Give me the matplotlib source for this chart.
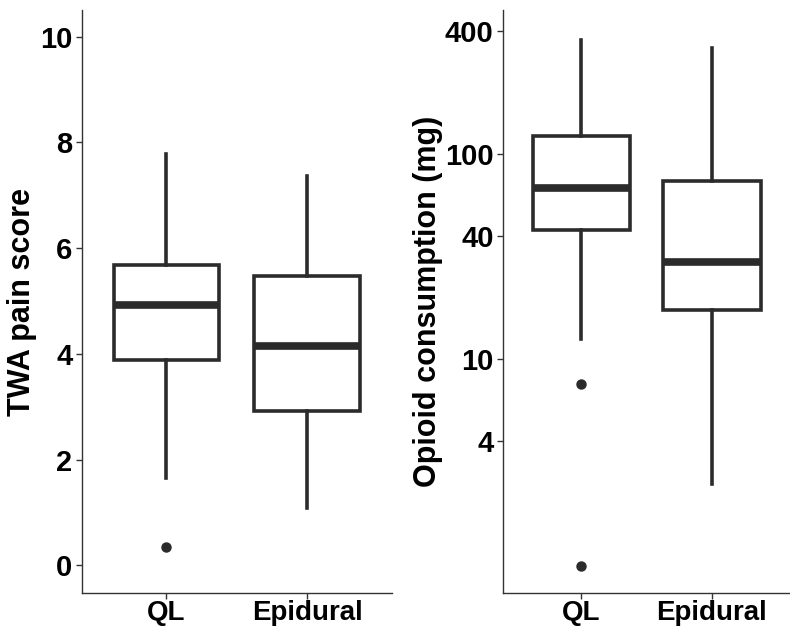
import matplotlib
matplotlib.use("Agg")
import matplotlib.pyplot as plt

# Группы
groups = ["QL", "Epidural"]

# TWA pain score: whislo, q1, med, q3, whishi
pain_whislo = [1.65, 1.08]
pain_q1 = [3.88, 2.92]
pain_med = [4.93, 4.15]
pain_q3 = [5.68, 5.47]
pain_whishi = [7.78, 7.37]
pain_fliers = [[0.35], []]

# Opioid consumption (mg), log scale
opioid_whislo = [12.6, 2.46]
opioid_q1 = [42.5, 17.3]
opioid_med = [68.5, 29.7]
opioid_q3 = [122, 74]
opioid_whishi = [360, 329]
opioid_fliers = [[7.6, 0.98], []]

LINE = "#2b2b2b"
plt.rcParams["font.family"] = ["Liberation Sans", "DejaVu Sans"]
plt.rcParams["font.weight"] = "bold"


def make_stats(lo, q1, med, q3, hi, fl):
    return [dict(whislo=lo[i], q1=q1[i], med=med[i], q3=q3[i], whishi=hi[i],
                 fliers=fl[i], label=groups[i]) for i in range(len(groups))]


def draw(ax, stats):
    ax.bxp(stats, positions=[1, 2], widths=0.75, showcaps=False, patch_artist=True,
           boxprops=dict(facecolor="white", edgecolor=LINE, linewidth=2.6),
           medianprops=dict(color=LINE, linewidth=5.5, solid_capstyle="butt"),
           whiskerprops=dict(color=LINE, linewidth=2.6),
           flierprops=dict(marker="o", markerfacecolor=LINE, markeredgecolor=LINE,
                           markersize=6.5))
    ax.set_xlim(0.4, 2.6)
    ax.set_xticks([1, 2])
    ax.set_xticklabels(groups)
    for s in ["top", "right"]:
        ax.spines[s].set_visible(False)
    for s in ["left", "bottom"]:
        ax.spines[s].set_linewidth(1.0)
        ax.spines[s].set_color("#333333")
    ax.tick_params(axis="y", labelsize=21, length=4, width=1.0, color="#333333",
                   labelcolor="black", pad=3)
    ax.tick_params(axis="x", labelsize=20, length=4, width=1.0, color="#333333",
                   labelcolor="black", pad=1)
    for lbl in ax.get_xticklabels() + ax.get_yticklabels():
        lbl.set_fontweight("bold")


fig = plt.figure(figsize=(7.9, 6.34), dpi=100)
ax1 = fig.add_axes([0.1038, 0.064, 0.392, 0.92])
ax2 = fig.add_axes([0.637, 0.064, 0.363, 0.92])

draw(ax1, make_stats(pain_whislo, pain_q1, pain_med, pain_q3, pain_whishi, pain_fliers))
ax1.set_ylim(-0.53, 10.5)
ax1.set_yticks([0, 2, 4, 6, 8, 10])
ax1.set_ylabel("TWA pain score", fontsize=22, fontweight="bold", labelpad=2)

draw(ax2, make_stats(opioid_whislo, opioid_q1, opioid_med, opioid_q3, opioid_whishi, opioid_fliers))
ax2.set_yscale("log")
ax2.set_ylim(0.72, 503)
ax2.set_yticks([4, 10, 40, 100, 400])
ax2.set_yticklabels(["4", "10", "40", "100", "400"])
ax2.minorticks_off()
for lbl in ax2.get_yticklabels():
    lbl.set_fontweight("bold")
ax2.set_ylabel("Opioid consumption (mg)", fontsize=22, fontweight="bold", labelpad=1)

fig.savefig("out.png", dpi=100)
